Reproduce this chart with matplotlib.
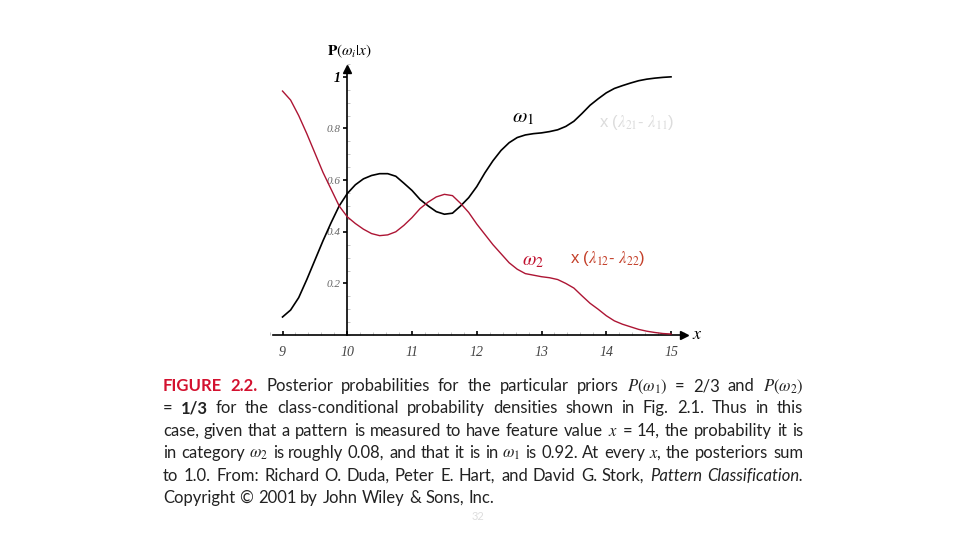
import matplotlib
matplotlib.use('Agg')
import matplotlib.pyplot as plt
from matplotlib.ticker import MultipleLocator

# ---------------- data ----------------
x_vals = [9.0, 9.125, 9.25, 9.375, 9.5, 9.625, 9.75, 9.875,
          10.0, 10.125, 10.25, 10.375, 10.5, 10.625, 10.75, 10.875,
          11.0, 11.125, 11.25, 11.375, 11.5, 11.625, 11.75, 11.875,
          12.0, 12.125, 12.25, 12.375, 12.5, 12.625, 12.75, 12.875,
          13.0, 13.125, 13.25, 13.375, 13.5, 13.625, 13.75, 13.875,
          14.0, 14.125, 14.25, 14.375, 14.5, 14.625, 14.75, 14.875, 15.0]
omega1 = [0.070, 0.097, 0.145, 0.215, 0.290, 0.365, 0.435, 0.500,
          0.548, 0.582, 0.605, 0.618, 0.625, 0.625, 0.615, 0.588,
          0.560, 0.525, 0.500, 0.478, 0.468, 0.472, 0.500, 0.532,
          0.575, 0.628, 0.675, 0.715, 0.745, 0.765, 0.775, 0.780,
          0.783, 0.788, 0.795, 0.808, 0.828, 0.858, 0.890, 0.915,
          0.938, 0.955, 0.966, 0.976, 0.985, 0.991, 0.995, 0.998, 1.000]
omega2 = [0.945, 0.910, 0.850, 0.780, 0.705, 0.630, 0.565, 0.500,
          0.458, 0.432, 0.410, 0.393, 0.385, 0.388, 0.400, 0.425,
          0.455, 0.490, 0.515, 0.535, 0.545, 0.540, 0.510, 0.475,
          0.430, 0.390, 0.350, 0.315, 0.280, 0.255, 0.238, 0.232,
          0.226, 0.222, 0.215, 0.200, 0.182, 0.152, 0.123, 0.100,
          0.075, 0.055, 0.042, 0.032, 0.022, 0.015, 0.010, 0.006, 0.004]
x_ticks = [9, 10, 11, 12, 13, 14, 15]
x_tick_labels = ['9', '10', '11', '12', '13', '14', '15']
y_ticks = [0.2, 0.4, 0.6, 0.8, 1.0]
y_tick_labels = ['0.2', '0.4', '0.6', '0.8', '1']

caption_lines = [
    [("FIGURE", 'fig'), ("2.2.", 'fig'), ("Posterior", 'n'), ("probabilities", 'n'), ("for", 'n'),
     ("the", 'n'), ("particular", 'n'), ("priors", 'n'), (r"$P(\omega_1)$", 'n'), ("=", 'n'),
     ("2/3", 'n'), ("and", 'n'), (r"$P(\omega_2)$", 'n')],
    [("=", 'n'), ("1/3", 'b'), ("for", 'n'), ("the", 'n'), ("class-conditional", 'n'),
     ("probability", 'n'), ("densities", 'n'), ("shown", 'n'), ("in", 'n'), ("Fig.", 'n'),
     ("2.1.", 'n'), ("Thus", 'n'), ("in", 'n'), ("this", 'n')],
    [("case,", 'n'), ("given", 'n'), ("that", 'n'), ("a", 'n'), ("pattern", 'n'), ("is", 'n'),
     ("measured", 'n'), ("to", 'n'), ("have", 'n'), ("feature", 'n'), ("value", 'n'),
     (r"$x$", 'n'), ("=", 'n'), ("14,", 'n'), ("the", 'n'), ("probability", 'n'), ("it", 'n'),
     ("is", 'n')],
    [("in", 'n'), ("category", 'n'), (r"$\omega_2$", 'n'), ("is", 'n'), ("roughly", 'n'),
     ("0.08,", 'n'), ("and", 'n'), ("that", 'n'), ("it", 'n'), ("is", 'n'), ("in", 'n'),
     (r"$\omega_1$", 'n'), ("is", 'n'), ("0.92.", 'n'), ("At", 'n'), ("every", 'n'),
     (r"$x$,", 'n'), ("the", 'n'), ("posteriors", 'n'), ("sum", 'n')],
    [("to", 'n'), ("1.0.", 'n'), ("From:", 'n'), ("Richard", 'n'), ("O.", 'n'), ("Duda,", 'n'),
     ("Peter", 'n'), ("E.", 'n'), ("Hart,", 'n'), ("and", 'n'), ("David", 'n'), ("G.", 'n'),
     ("Stork,", 'n'), ("Pattern", 'it'), ("Classification.", 'it')],
    [("Copyright", 'n'), ("©", 'n'), ("2001", 'n'), ("by", 'n'), ("John", 'n'), ("Wiley", 'n'),
     ("&", 'n'), ("Sons,", 'n'), ("Inc.", 'n')],
]

# ---------------- figure ----------------
plt.rcParams['mathtext.fontset'] = 'stix'
W, H = 960, 540
fig = plt.figure(figsize=(9.6, 5.4), dpi=100)
fig.patch.set_facecolor('white')

ax = fig.add_axes([0.2808, 0.3556, 0.4384, 0.526])
ax.set_facecolor('none')
ax.plot(x_vals, omega1, color='black', lw=1.2, zorder=3)
ax.plot(x_vals, omega2, color='#ad1534', lw=1.0, zorder=3)
ax.set_xlim(8.8, 15.3)
ax.set_ylim(-0.05, 1.05)

for s in ['top', 'right']:
    ax.spines[s].set_visible(False)
ax.spines['left'].set_position(('data', 10))
ax.spines['bottom'].set_position(('data', 0))
ax.spines['left'].set_bounds(0, 1.02)
ax.spines['bottom'].set_bounds(8.85, 15.18)
ax.spines['left'].set_linewidth(1.2)
ax.spines['bottom'].set_linewidth(1.2)

serif = 'Liberation Serif'
ax.set_xticks(x_ticks)
ax.set_xticklabels(x_tick_labels, fontfamily=serif, fontstyle='italic', fontsize=10, color='#444444')
ax.set_yticks(y_ticks)
ax.set_yticklabels(y_tick_labels, fontfamily=serif, fontstyle='italic', fontsize=8, color='#666666')
lab1 = ax.get_yticklabels()[-1]
lab1.set_color('black')
lab1.set_fontweight('bold')
lab1.set_fontsize(10)

ax.tick_params(axis='x', which='major', direction='in', length=3, width=1.2, pad=8)
ax.tick_params(axis='y', which='major', direction='out', length=3, width=1.2, pad=2)
ax.xaxis.set_minor_locator(MultipleLocator(0.2))
ax.yaxis.set_minor_locator(MultipleLocator(0.05))
ax.tick_params(which='minor', direction='in', length=2, width=0.6, color='#bbbbbb')

# axis arrows and labels
ax.plot([15.2], [0], marker='>', color='black', markersize=6, clip_on=False, zorder=4)
ax.plot([10], [1.03], marker='^', color='black', markersize=6, clip_on=False, zorder=4)
ax.text(15.33, 0.005, r'$x$', fontsize=13, va='center', ha='left')
ax.text(10.04, 1.097, r'$\mathbf{P}(\omega_{i}|x)$', fontsize=11, va='center', ha='center')

# curve labels
ax.text(12.545, 0.845, r'$\omega_{1}$', fontsize=15, va='center', ha='left', color='black')
ax.text(12.70, 0.29, r'$\omega_{2}$', fontsize=14, va='center', ha='left', color='#c0102e')
ax.text(13.89, 0.822, r'x ($\lambda_{21}$- $\lambda_{11}$)', fontsize=12, va='center', ha='left',
        color='#dcdcdc', fontfamily='Liberation Sans')
ax.text(13.44, 0.298, r'x ($\lambda_{12}$- $\lambda_{22}$)', fontsize=12, va='center', ha='left',
        color='#c4402a', fontfamily='Liberation Sans')

# ---------------- caption ----------------
styles = {
    'fig': dict(color='#d3112f', fontweight='bold'),
    'n': dict(color='#222222'),
    'b': dict(color='#222222', fontweight='bold'),
    'it': dict(color='#222222', fontstyle='italic'),
}
renderer = fig.canvas.get_renderer()
left_px, right_px = 163, 803
line_w = right_px - left_px
cap_font = 'Lato'
size0 = 12.0
baselines = [391, 413, 436, 458, 481, 503]

all_texts = []
for i, line in enumerate(caption_lines):
    ts = []
    for word, st in line:
        t = fig.text(0, 1 - baselines[i] / H, word, fontsize=size0, fontfamily=cap_font,
                     va='baseline', ha='left', **styles[st])
        ts.append(t)
    all_texts.append(ts)

space_px = 0.26 * size0 * 100 / 72
max_nat = 0
for ts in all_texts[:-1]:
    ws = [t.get_window_extent(renderer).width for t in ts]
    nat = sum(ws) + space_px * (len(ws) - 1)
    max_nat = max(max_nat, nat)
size = min(size0, size0 * line_w / max_nat)
for ts in all_texts:
    for t in ts:
        t.set_fontsize(size)
space_px = 0.26 * size * 100 / 72

for i, ts in enumerate(all_texts):
    ws = [t.get_window_extent(renderer).width for t in ts]
    if i < len(all_texts) - 1:
        gap = (line_w - sum(ws)) / (len(ws) - 1)
    else:
        gap = space_px
    xpos = left_px
    for t, w in zip(ts, ws):
        t.set_x(round(xpos) / W)
        xpos += w + gap

fig.text(478 / W, 1 - 520 / H, '32', fontsize=8, color='#dddddd', ha='center', va='baseline',
         fontfamily=cap_font)

fig.savefig('out.png', dpi=100, facecolor='white')
